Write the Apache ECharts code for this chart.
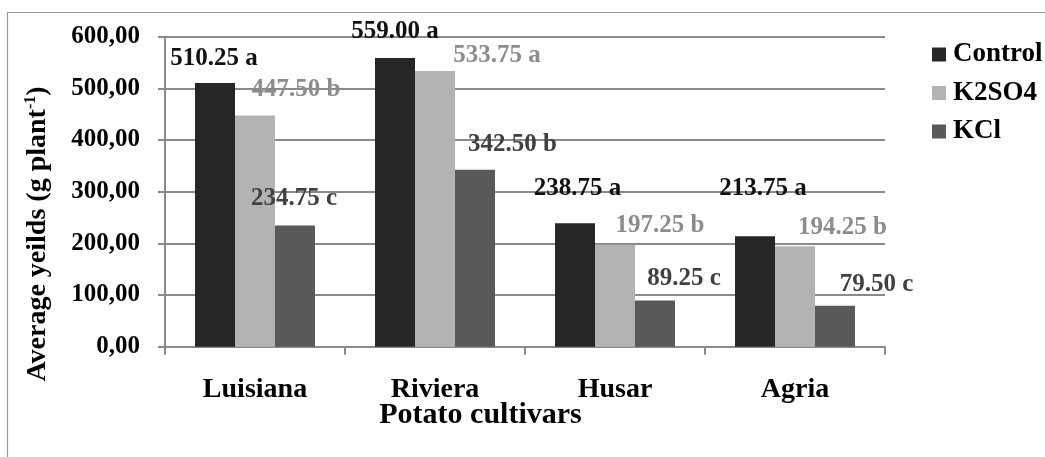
<!DOCTYPE html>
<html>
<head>
<meta charset="utf-8">
<script src="https://cdn.jsdelivr.net/npm/echarts@6/dist/echarts.min.js"></script>
<style>
html,body{margin:0;padding:0;background:#fff;}
#chart{width:1045px;height:457px;}
</style>
</head>
<body>
<div id="chart"></div>
<script>
// ---- data ----
const categories = ['Luisiana', 'Riviera', 'Husar', 'Agria'];
const seriesNames = ['Control', 'K2SO4', 'KCl'];
const controlValues = [510.25, 559.00, 238.75, 213.75];
const k2so4Values = [447.50, 533.75, 197.25, 194.25];
const kclValues = [234.75, 342.50, 89.25, 79.50];
const controlLetters = ['a', 'a', 'a', 'a'];
const k2so4Letters = ['b', 'a', 'b', 'b'];
const kclLetters = ['c', 'b', 'c', 'c'];
const yTickLabels = ['0,00', '100,00', '200,00', '300,00', '400,00', '500,00', '600,00'];

// ---- styling (label placement relative to bar top centre) ----
const FONT = "'Liberation Serif', 'Times New Roman', serif";
const seriesColors = ['#262626', '#b3b3b3', '#595959'];
const labelColors = ['#111111', '#8c8c8c', '#404040'];
const labelShift = [
  [[-1, -25], [0, -26], [2.5, -35], [8, -48]],
  [[41, -25.5], [62, -15], [45, -19.5], [47.5, -19]],
  [[-1, -27], [37.5, -24.7], [29, -22], [41.5, -21]]
];
const BAR_W = 40;

function buildData(values, letters, si) {
  return values.map((v, i) => ({
    value: v,
    label: {
      show: true,
      position: [BAR_W / 2 + labelShift[si][i][0], labelShift[si][i][1]],
      align: 'center',
      verticalAlign: 'middle',
      formatter: v.toFixed(2) + ' ' + letters[i],
      color: labelColors[si],
      fontFamily: FONT,
      fontWeight: 'bold',
      fontSize: 25
    }
  }));
}

const allValues = [controlValues, k2so4Values, kclValues];
const allLetters = [controlLetters, k2so4Letters, kclLetters];

const chart = echarts.init(document.getElementById('chart'), null, {renderer: 'canvas'});
chart.setOption({
  animation: false,
  backgroundColor: '#ffffff',
  grid: {left: 165, right: 160, top: 36.7, bottom: 110.3, containLabel: false},
  legend: {
    orient: 'vertical',
    left: 932,
    top: 41,
    padding: 0,
    itemWidth: 14,
    itemHeight: 14,
    itemGap: 11.5,
    icon: 'rect',
    data: seriesNames,
    textStyle: {fontFamily: FONT, fontWeight: 'bold', fontSize: 27, color: '#000', padding: [0, 0, 0, 2]}
  },
  xAxis: {
    type: 'category',
    data: categories,
    axisLine: {show: true, lineStyle: {color: '#8a8a8a', width: 2}},
    axisTick: {show: true, length: 8, interval: 0, alignWithLabel: false, lineStyle: {color: '#8a8a8a', width: 2}},
    axisLabel: {margin: 29, interval: 0, fontFamily: FONT, fontWeight: 'bold', fontSize: 28, color: '#000'},
    splitLine: {show: false}
  },
  yAxis: {
    type: 'value',
    min: 0,
    max: 600,
    interval: 100,
    axisLine: {show: true, lineStyle: {color: '#8a8a8a', width: 2}},
    axisTick: {show: true, length: 7, lineStyle: {color: '#8a8a8a', width: 2}},
    splitLine: {show: true, lineStyle: {color: '#8a8a8a', width: 2}},
    axisLabel: {
      margin: 25,
      fontFamily: FONT, fontWeight: 'bold', fontSize: 25, color: '#000',
      formatter: function (v) { return yTickLabels[Math.round(v / 100)]; }
    }
  },
  series: seriesNames.map((name, si) => ({
    name: name,
    type: 'bar',
    barWidth: BAR_W,
    barGap: '0%',
    itemStyle: {color: seriesColors[si]},
    data: buildData(allValues[si], allLetters[si], si),
    z: 3
  })),
  graphic: [
    {
      type: 'rect',
      silent: true,
      shape: {x: 7.5, y: 12.5, width: 1050, height: 460},
      style: {fill: 'none', stroke: '#999999', lineWidth: 1.2}
    },
    {
      type: 'text',
      silent: true,
      x: 38,
      y: 234,
      rotation: Math.PI / 2,
      style: {
        text: '{m|Average yeilds (g plant}{s|-1}{m|)}',
        align: 'center',
        verticalAlign: 'middle',
        rich: {
          m: {fontFamily: FONT, fontWeight: 'bold', fontSize: 28, fill: '#000', lineHeight: 30},
          s: {fontFamily: FONT, fontWeight: 'bold', fontSize: 16, fill: '#000', verticalAlign: 'top', lineHeight: 16}
        }
      }
    },
    {
      type: 'text',
      silent: true,
      x: 480.5,
      y: 415,
      style: {
        text: 'Potato cultivars',
        align: 'center',
        verticalAlign: 'middle',
        font: 'bold 30px ' + FONT,
        fill: '#000'
      }
    }
  ]
});
</script>
</body>
</html>
